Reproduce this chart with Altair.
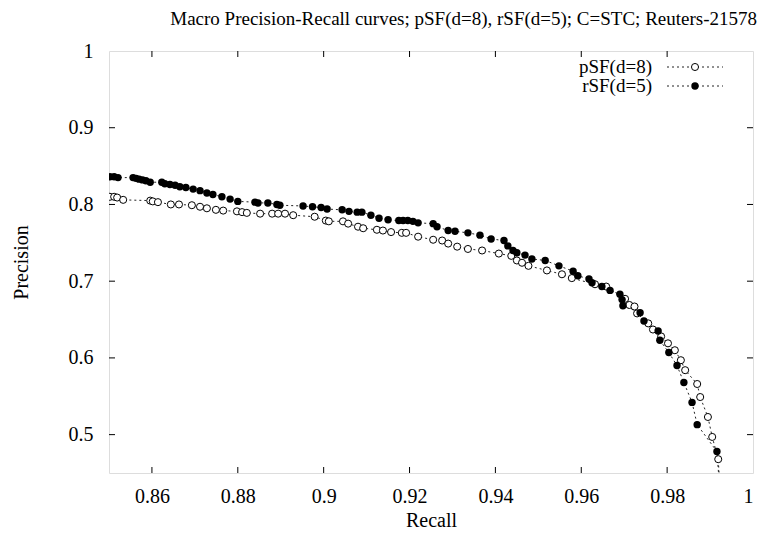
import altair as alt
import pandas as pd

# pSF(d=8) curve (open circles)
p_recall = [0.8502, 0.8512, 0.8519, 0.8533, 0.8596, 0.8602, 0.8614, 0.8644, 0.8663,
            0.8693, 0.8712, 0.8728, 0.8749, 0.8766, 0.8798, 0.8810, 0.8821, 0.8852,
            0.8880, 0.8894, 0.8910, 0.8929, 0.8979, 0.9005, 0.9012, 0.9045, 0.9057,
            0.9080, 0.9092, 0.9124, 0.9138, 0.9157, 0.9182, 0.9192, 0.9220, 0.9255,
            0.9276, 0.9290, 0.9311, 0.9336, 0.9369, 0.9408, 0.9437, 0.9450, 0.9462,
            0.9477, 0.9520, 0.9555, 0.9578, 0.9632, 0.9658, 0.9702, 0.9712, 0.9724,
            0.9730, 0.9756, 0.9767, 0.9786, 0.9802, 0.9818, 0.9832, 0.9842, 0.9870,
            0.9877, 0.9895, 0.9905, 0.9919, 0.9922]
p_precision = [0.810, 0.810, 0.809, 0.806, 0.805, 0.804, 0.803, 0.800, 0.800,
               0.799, 0.797, 0.795, 0.793, 0.792, 0.791, 0.790, 0.789, 0.788,
               0.788, 0.788, 0.788, 0.786, 0.784, 0.779, 0.778, 0.778, 0.775,
               0.771, 0.769, 0.767, 0.766, 0.764, 0.763, 0.763, 0.758, 0.754,
               0.753, 0.749, 0.745, 0.742, 0.740, 0.736, 0.733, 0.727, 0.724,
               0.720, 0.714, 0.709, 0.704, 0.696, 0.693, 0.677, 0.669, 0.667,
               0.658, 0.645, 0.637, 0.628, 0.619, 0.610, 0.597, 0.584, 0.566,
               0.549, 0.523, 0.497, 0.468, 0.440]

# rSF(d=5) curve (filled circles)
r_recall = [0.8502, 0.8512, 0.8521, 0.8556, 0.8563, 0.8570, 0.8578, 0.8586, 0.8596,
            0.8623, 0.8630, 0.8642, 0.8654, 0.8665, 0.8679, 0.8696, 0.8712, 0.8728,
            0.8742, 0.8763, 0.8782, 0.8800, 0.8840, 0.8847, 0.8870, 0.8891, 0.8898,
            0.8952, 0.8974, 0.8994, 0.9008, 0.9043, 0.9059, 0.9078, 0.9089, 0.9110,
            0.9129, 0.9150, 0.9175, 0.9185, 0.9196, 0.9208, 0.9220, 0.9255, 0.9264,
            0.9290, 0.9306, 0.9336, 0.9364, 0.9390, 0.9420, 0.9429, 0.9441, 0.9450,
            0.9469, 0.9485, 0.9516, 0.9548, 0.9581, 0.9592, 0.9618, 0.9625, 0.9648,
            0.9667, 0.9690, 0.9695, 0.9697, 0.9737, 0.9746, 0.9779, 0.9783, 0.9804,
            0.9823, 0.9839, 0.9858, 0.9870, 0.9916, 0.9921]
r_precision = [0.836, 0.836, 0.835, 0.835, 0.834, 0.833, 0.832, 0.831, 0.829,
               0.829, 0.827, 0.826, 0.825, 0.823, 0.822, 0.820, 0.818, 0.815,
               0.813, 0.810, 0.807, 0.804, 0.803, 0.802, 0.802, 0.800, 0.799,
               0.798, 0.797, 0.796, 0.794, 0.793, 0.791, 0.790, 0.790, 0.786,
               0.782, 0.780, 0.779, 0.779, 0.779, 0.778, 0.776, 0.775, 0.771,
               0.766, 0.765, 0.763, 0.760, 0.755, 0.753, 0.746, 0.740, 0.737,
               0.734, 0.729, 0.727, 0.720, 0.713, 0.707, 0.703, 0.698, 0.693,
               0.688, 0.683, 0.676, 0.668, 0.659, 0.648, 0.635, 0.623, 0.607,
               0.590, 0.568, 0.542, 0.513, 0.478, 0.440]

series_names = ["pSF(d=8)", "rSF(d=5)"]
x_ticks = [0.86, 0.88, 0.90, 0.92, 0.94, 0.96, 0.98, 1.0]
y_ticks = [0.5, 0.6, 0.7, 0.8, 0.9, 1.0]
title_text = "Macro Precision-Recall curves; pSF(d=8), rSF(d=5); C=STC; Reuters-21578"

W, H = 644, 422
FONT = "Liberation Serif"

df = pd.concat([
    pd.DataFrame({"series": series_names[0], "recall": p_recall,
                  "precision": p_precision, "idx": range(len(p_recall))}),
    pd.DataFrame({"series": series_names[1], "recall": r_recall,
                  "precision": r_precision, "idx": range(len(r_recall))}),
])

xs = alt.Scale(domain=[0.85, 1.0], nice=False, zero=False)
ys = alt.Scale(domain=[0.45, 1.0], nice=False, zero=False)

X = alt.X("recall:Q", scale=xs, title="Recall",
          axis=alt.Axis(values=x_ticks, format="~g", ticks=False, domain=False,
                        grid=False, labelPadding=13, labelFontSize=20,
                        titleFontSize=20, titleFontWeight="normal",
                        titleBaseline="alphabetic", titleY=53, labelFont=FONT,
                        titleFont=FONT, labelColor="black", titleColor="black"))
Y = alt.Y("precision:Q", scale=ys, title="Precision",
          axis=alt.Axis(values=y_ticks, format="~g", ticks=False, domain=False,
                        grid=False, labelPadding=16, labelFontSize=20,
                        titleFontSize=20, titleFontWeight="normal",
                        titleX=-78, titleY=H / 2, titleBaseline="bottom",
                        labelFont=FONT, titleFont=FONT, labelColor="black",
                        titleColor="black"))

base = alt.Chart(df)
lines = base.mark_line(strokeDash=[2, 3], strokeWidth=1, color="#222", clip=True).encode(
    x=X, y=Y, detail="series:N", order="idx:Q")
p_pts = base.transform_filter(alt.datum.series == series_names[0]).mark_point(
    shape="circle", filled=True, fill="white", stroke="black", strokeWidth=1,
    size=50, opacity=1, clip=True).encode(x="recall:Q", y="precision:Q")
r_pts = base.transform_filter(alt.datum.series == series_names[1]).mark_point(
    shape="circle", filled=True, color="black", size=55, opacity=1, clip=True).encode(
    x="recall:Q", y="precision:Q")

# inward mirrored ticks
xt_df = pd.DataFrame({"v": x_ticks[:-1]})
yt_df = pd.DataFrame({"v": y_ticks[:-1]})
TL = 6
tick_layers = [
    alt.Chart(xt_df).mark_rule(color="black", strokeWidth=1).encode(
        x=alt.X("v:Q", scale=xs), y=alt.value(H), y2=alt.value(H - TL)),
    alt.Chart(xt_df).mark_rule(color="black", strokeWidth=1).encode(
        x=alt.X("v:Q", scale=xs), y=alt.value(0), y2=alt.value(TL)),
    alt.Chart(yt_df).mark_rule(color="black", strokeWidth=1).encode(
        y=alt.Y("v:Q", scale=ys), x=alt.value(0), x2=alt.value(TL)),
    alt.Chart(yt_df).mark_rule(color="black", strokeWidth=1).encode(
        y=alt.Y("v:Q", scale=ys), x=alt.value(W), x2=alt.value(W - TL)),
]

# title as a text mark above the plot
title_layer = alt.Chart(pd.DataFrame({"t": [title_text]})).mark_text(
    align="right", baseline="alphabetic", font=FONT, fontSize=19, color="black").encode(
    text="t:N", x=alt.value(W + 4), y=alt.value(-26))

# legend (gnuplot style: label, then sample)
leg_layers = []
for i, name in enumerate(series_names):
    yy = 16 + 19 * i
    ldf = pd.DataFrame({"name": [name]})
    leg_layers.append(alt.Chart(ldf).mark_text(
        align="right", baseline="middle", font=FONT, fontSize=19, color="black").encode(
        text="name:N", x=alt.value(543), y=alt.value(yy)))
    leg_layers.append(alt.Chart(ldf).mark_rule(
        strokeDash=[2, 3], strokeWidth=1, color="#222").encode(
        x=alt.value(558), x2=alt.value(614), y=alt.value(yy)))
    if i == 0:
        leg_layers.append(alt.Chart(ldf).mark_point(
            shape="circle", filled=True, fill="white", stroke="black", strokeWidth=1,
            size=50, opacity=1).encode(x=alt.value(586), y=alt.value(yy)))
    else:
        leg_layers.append(alt.Chart(ldf).mark_point(
            shape="circle", filled=True, color="black", size=55, opacity=1).encode(
            x=alt.value(586), y=alt.value(yy)))

chart = alt.layer(lines, p_pts, r_pts, *tick_layers, title_layer, *leg_layers).properties(
    width=W, height=H,
    autosize=alt.AutoSizeParams(type="none"),
    padding={"left": 101, "top": 43, "right": 11, "bottom": 59},
).configure_view(stroke="black", strokeWidth=1.5).configure(background="white")

chart.save("out.html", embed_options={"renderer": "svg", "actions": False})
